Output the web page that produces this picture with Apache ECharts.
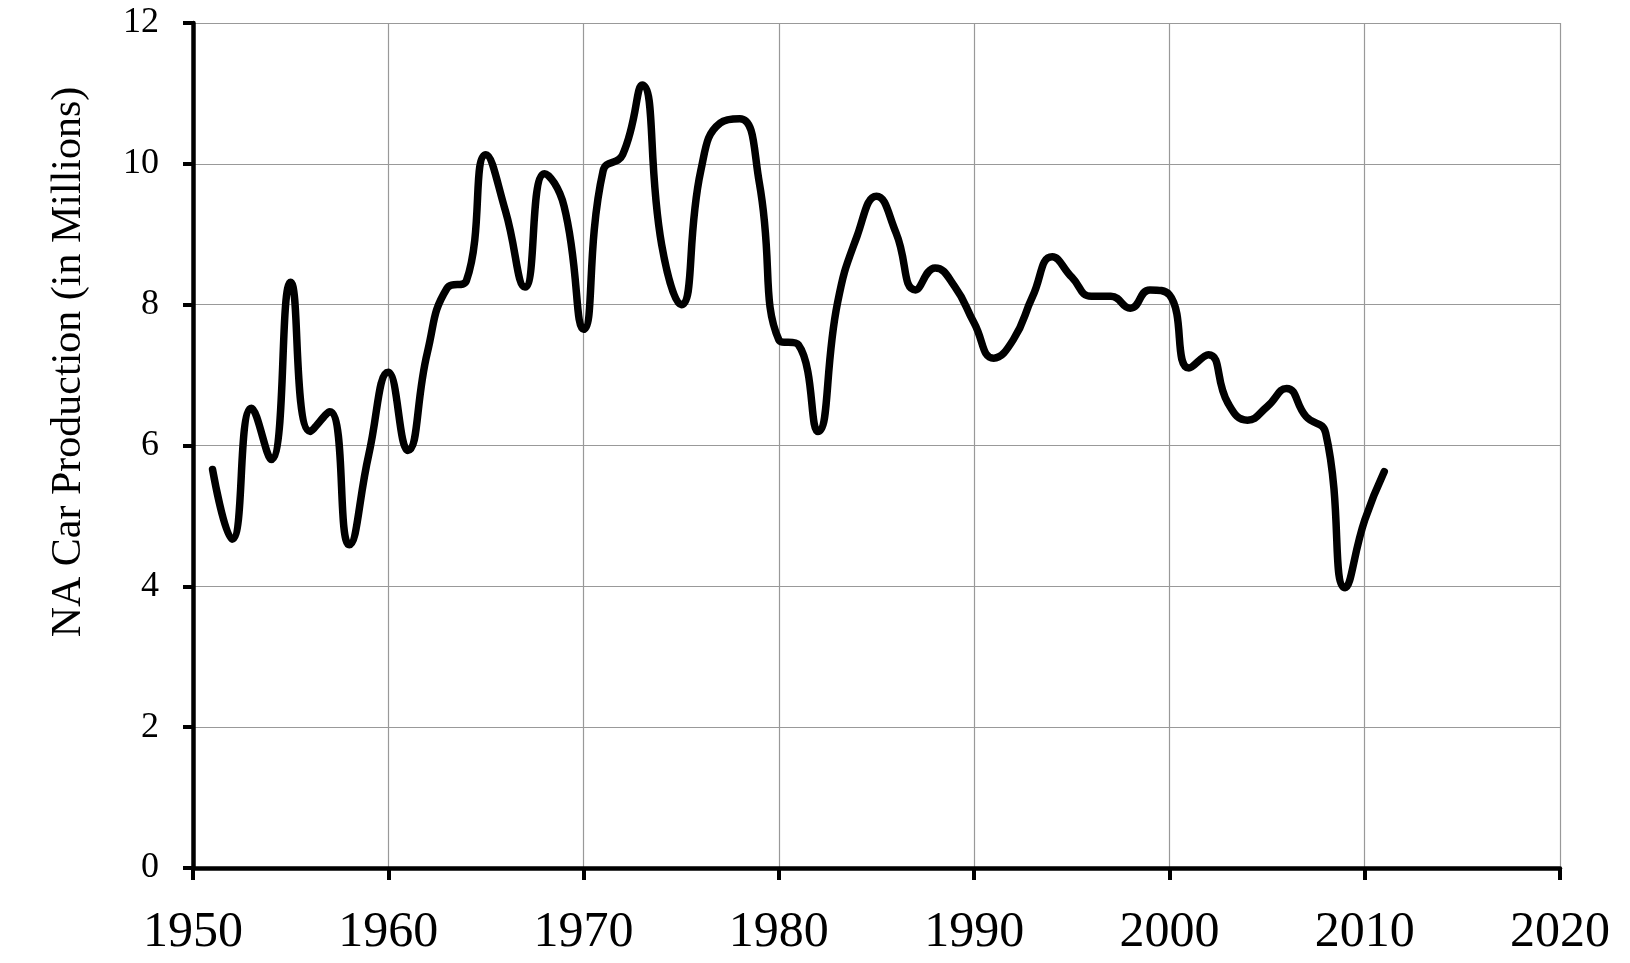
<!DOCTYPE html>
<html>
<head>
<meta charset="utf-8">
<script src="https://cdn.jsdelivr.net/npm/echarts@6/dist/echarts.min.js"></script>
<style>
  html, body { margin: 0; padding: 0; background: #fff; }
  #chart { width: 1630px; height: 963px; }
</style>
</head>
<body>
<div id="chart"></div>
<script>
const years = [1951,1952,1953,1954,1955,1956,1957,1958,1959,1960,
  1961,1962,1963,1964,1965,1966,1967,1968,1969,1970,
  1971,1972,1973,1974,1975,1976,1977,1978,1979,1980,
  1981,1982,1983,1984,1985,1986,1987,1988,1989,1990,
  1991,1992,1993,1994,1995,1996,1997,1998,1999,2000,
  2001,2002,2003,2004,2005,2006,2007,2008,2009,2010,2011];
const production = [5.66,4.67,6.53,5.80,8.32,6.20,6.48,4.59,5.87,7.04,
  5.93,7.32,8.23,8.34,10.13,9.33,8.25,9.86,9.40,7.65,
  9.90,10.13,11.12,8.85,8.00,9.90,10.58,10.64,9.73,7.50,
  7.43,6.20,8.02,8.97,9.54,9.02,8.21,8.52,8.26,7.74,
  7.24,7.50,8.12,8.68,8.39,8.12,8.12,7.95,8.21,8.14,
  7.10,7.29,6.60,6.36,6.55,6.81,6.41,6.18,3.98,4.94,5.63];
const yTitle = 'NA Car Production (in Millions)';

const chart = echarts.init(document.getElementById('chart'), null, { renderer: 'canvas' });
const font = '"Liberation Serif", "Times New Roman", serif';
chart.setOption({
  animation: false,
  backgroundColor: '#ffffff',
  grid: { left: 193, right: 70, top: 23, bottom: 95, containLabel: false },
  xAxis: {
    type: 'value', min: 1950, max: 2020, interval: 10,
    axisLine: { show: true, onZero: false, lineStyle: { color: '#000', width: 4.5 } },
    axisTick: { show: true, inside: false, length: 12, lineStyle: { color: '#000', width: 4 } },
    axisLabel: { color: '#000', fontFamily: font, fontSize: 50, margin: 40, formatter: v => String(v) },
    splitLine: { show: true, lineStyle: { color: '#999', width: 1.2 } }
  },
  yAxis: {
    type: 'value', min: 0, max: 12, interval: 2,
    axisLine: { show: true, lineStyle: { color: '#000', width: 4.5 } },
    axisTick: { show: true, inside: false, length: 10, lineStyle: { color: '#000', width: 4 } },
    axisLabel: { color: '#000', fontFamily: font, fontSize: 36, margin: 34 },
    splitLine: { show: true, lineStyle: { color: '#999', width: 1.2 } }
  },
  graphic: [{
    type: 'text',
    x: 69, y: 362,
    rotation: Math.PI / 2,
    style: {
      text: yTitle,
      fill: '#000',
      font: '42px ' + font,
      textAlign: 'center',
      textVerticalAlign: 'middle'
    }
  }],
  series: [{
    type: 'line',
    data: years.map((y, i) => [y, production[i]]),
    smooth: 0.5,
    showSymbol: false,
    lineStyle: { color: '#000', width: 7.5, cap: 'round', join: 'round' }
  }]
});
</script>
</body>
</html>
